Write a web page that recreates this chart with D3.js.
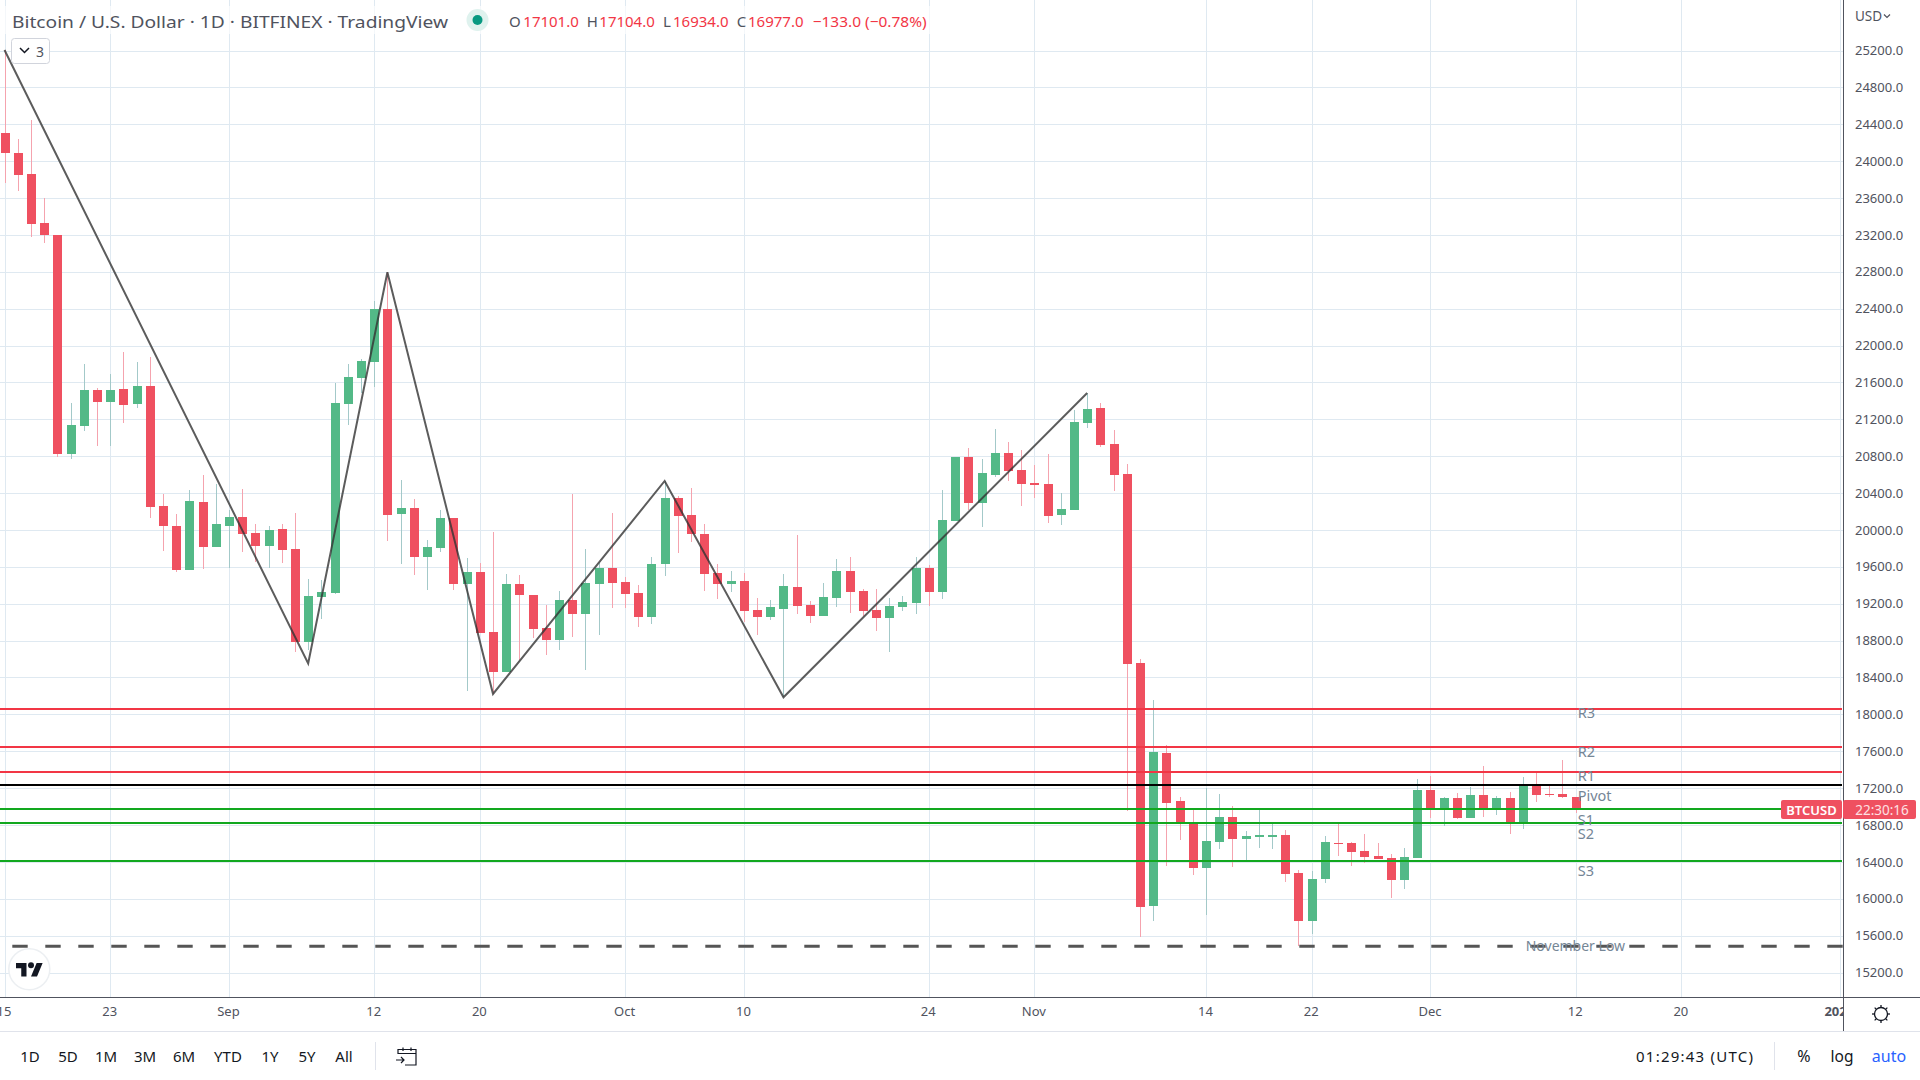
<!DOCTYPE html>
<html><head><meta charset="utf-8">
<script src="https://cdn.jsdelivr.net/npm/d3@7"></script>
<style>
html,body{margin:0;padding:0;background:#fff;overflow:hidden}
svg{display:block}
text{font-family:"Noto Sans",Roboto,sans-serif}
</style></head><body>
<script>
const opens=[24306,24089,23861,23330,23200,20824,21127,21518,21388,21529,21366,21561,20260,20043,19566,20303,19815,20043,20140,19967,19826,20010,19793,18785,19273,19316,21366,21648,21821,22397,20173,20238,19707,19804,20130,19414,19544,18893,18459,19414,19295,18937,18806,19240,19088,19414,19587,19436,19316,19056,19631,20346,20162,19956,19533,19414,19446,19132,19056,19143,19381,19186,19067,19262,19555,19338,19132,19045,19164,19208,19587,19327,20097,20791,20292,20596,20834,20650,20509,20498,20162,20216,21160,21322,20932,20607,18557,15921,17580,17060,16818,16333,16615,16886,16648,16669,16669,16691,16279,15758,16214,16601,16604,16518,16463,16441,16203,16441,17179,16984,17092,16875,17125,16984,17092,16832,17222,17135,17135,17101];
const highs=[25206,24240,24447,23601,23200,21377,21800,21539,21691,21930,21821,21876,20390,20173,20433,20596,20498,20216,20444,20065,20043,20065,20184,19468,19457,21594,21800,21850,22484,22795,20542,20336,19891,20216,20130,19696,19638,19978,19522,19511,19295,19186,19338,20390,19793,19638,20184,19490,19403,19706,20530,20368,20455,20064,19630,19555,19533,19262,19240,19522,19945,19229,19424,19685,19706,19359,19359,19262,19283,19706,19620,20433,20791,20889,20769,21095,20954,20867,20704,20823,20400,21301,21485,21377,21084,20715,18600,18155,17663,17103,16962,17201,17136,17005,16734,16962,16810,16745,16311,16300,16680,16810,16615,16702,16604,16485,16550,17298,17331,17103,17147,17212,17439,17114,17157,17320,17363,17222,17504,17104];
const lows=[23767,23677,23178,23113,20795,20769,21073,20910,20910,21160,21323,20130,19772,19544,19566,19577,19815,19587,19761,19652,19587,19642,18676,18700,19034,19305,21138,21480,21554,19880,19631,19511,19349,19761,19349,18253,18882,18221,18459,18590,18828,18644,18698,18839,18481,18861,19154,19154,18948,18980,19500,19750,19869,19338,19251,19327,19002,18860,19023,18185,19088,18991,19067,19164,19099,19067,18904,18676,19121,19088,19175,19251,20097,20216,20032,20574,20531,20260,20346,20075,20053,20216,21105,20899,20422,16955,15588,15758,16355,16637,16257,15823,16539,16344,16420,16550,16539,16181,15487,15617,16170,16463,16355,16387,16431,16008,16105,16441,16875,16788,16864,16875,16886,16908,16702,16756,17049,17103,17092,16934];
const closes=[24089,23850,23319,23200,20824,21138,21518,21388,21518,21355,21561,20249,20043,19566,20314,19815,20065,20140,19956,19826,20000,19783,18785,19284,19327,21377,21659,21832,22397,20162,20238,19707,19815,20130,19414,19544,18882,18459,19414,19295,18926,18806,19240,19088,19425,19587,19425,19305,19056,19631,20346,20151,19956,19522,19414,19446,19121,19056,19164,19392,19175,19067,19273,19555,19327,19121,19045,19175,19218,19587,19327,20108,20791,20292,20617,20834,20639,20498,20487,20151,20227,21170,21311,20921,20596,18546,15910,17591,17038,16832,16333,16626,16886,16648,16680,16691,16691,16268,15758,16214,16615,16593,16507,16452,16431,16203,16452,17179,16984,17092,16875,17125,16984,17092,16832,17222,17125,17125,17103,16977];
const priceTicks=[25200,24800,24400,24000,23600,23200,22800,22400,22000,21600,21200,20800,20400,20000,19600,19200,18800,18400,18000,17600,17200,16800,16400,16000,15600,15200];
const timeTickDay=[0,8,17,28,36,47,56,70,78,91,99,108,119,127,139];
const timeTickLabels=["15","23","Sep","12","20","Oct","10","24","Nov","14","22","Dec","12","20","2023"];
const levelNames=["R3","R2","R1","Pivot","S1","S2","S3"];
const levelPrices=[18058,17645,17374,17233,16973,16821,16409];
const levelColors=["#f23645","#f23645","#f23645","#000000","#12a81f","#12a81f","#12a81f"];
const levelLabelPrices=[18025,17600,17340,17125,16860,16715,16315];
const novemberLow=15484;
const zigzagDay=[0,23,29,37,50,59,82];
const zigzagPrice=[25206,18553,22795,18221,20531,18185,21485];
const rangeButtons=["1D","5D","1M","3M","6M","YTD","1Y","5Y","All"];
const rangeButtonX=[30,68,106,145,184,228,270,307,344];

const W=1920,H=1080,paneR=1843,paneB=997;
const svg=d3.select("body").append("svg").attr("width",W).attr("height",H);
const x=d3.scaleLinear().domain([0,119]).range([4.5,1575.7]);
const y=d3.scaleLinear().domain([15200,25200]).range([972.5,50.5]);
const sx=v=>Math.round(x(v));
const sy=v=>Math.round(y(v));
const gridC="#dfe9f1",up="#53b987",dn="#ef5060",upW="#a3c9c9",dnW="#f5a3ae",txt="#50535e",lab="#758696";

// grid
const grid=svg.append("g").attr("shape-rendering","crispEdges");
grid.selectAll(".gy").data(priceTicks).join("line").attr("x1",0).attr("x2",paneR)
  .attr("y1",d=>sy(d)+.5).attr("y2",d=>sy(d)+.5).attr("stroke",gridC);
grid.selectAll(".gx").data(timeTickDay).join("line").attr("y1",0).attr("y2",paneB)
  .attr("x1",d=>sx(d)+.5).attr("x2",d=>sx(d)+.5).attr("stroke",gridC);
svg.append("rect").attr("x",0).attr("y",6).attr("width",935).attr("height",28).attr("fill","#fff").attr("opacity",.65);

// candles
const cand=svg.append("g").attr("shape-rendering","crispEdges");
const days=d3.range(opens.length);
cand.selectAll(".w").data(days).join("rect").attr("x",d=>sx(d)).attr("width",1)
  .attr("y",d=>sy(highs[d])).attr("height",d=>Math.max(1,sy(lows[d])-sy(highs[d])))
  .attr("fill",d=>closes[d]>=opens[d]?upW:dnW);
cand.selectAll(".b").data(days).join("rect").attr("x",d=>sx(d)-4).attr("width",9)
  .attr("y",d=>Math.min(sy(opens[d]),sy(closes[d])))
  .attr("height",d=>Math.max(1,Math.abs(sy(opens[d])-sy(closes[d]))))
  .attr("fill",d=>closes[d]>=opens[d]?up:dn);

// levels
svg.append("g").selectAll("line").data(levelPrices).join("line")
  .attr("x1",0).attr("x2",paneR-1).attr("y1",d=>y(d)).attr("y2",d=>y(d))
  .attr("stroke",(d,i)=>levelColors[i]).attr("stroke-width",2);
svg.append("line").attr("x1",0).attr("x2",paneR).attr("y1",y(novemberLow)).attr("y2",y(novemberLow))
  .attr("stroke","#555").attr("stroke-width",3).attr("stroke-dasharray","15.4 17.6").attr("stroke-dashoffset",20.7);
// zigzag
svg.append("path").attr("fill","none").attr("stroke","#333").attr("stroke-opacity",.8).attr("stroke-width",2)
  .attr("stroke-linejoin","miter")
  .attr("d",d3.line().x(d=>x(d)).y((d,i)=>y(zigzagPrice[i]))(zigzagDay));

// level labels
const lbl=svg.append("g").attr("font-size",14.5).attr("fill",lab).attr("dominant-baseline","central");
lbl.selectAll("text").data(levelNames).join("text").attr("x",x(119)+2).attr("y",(d,i)=>y(levelLabelPrices[i]))
  .attr("dominant-baseline","central").text(d=>d);
svg.append("text").attr("x",x(119)-50).attr("y",y(novemberLow)-1).attr("font-size",14).attr("fill",lab)
  .attr("dominant-baseline","central").attr("text-anchor","start").text("November Low");

// axes chrome
svg.append("rect").attr("x",paneR).attr("y",0).attr("width",W-paneR).attr("height",1031).attr("fill","#fff");
svg.append("rect").attr("x",0).attr("y",paneB).attr("width",paneR).attr("height",34).attr("fill","#fff");
const yAxis=d3.axisRight(y).tickValues(priceTicks).tickFormat(d=>d.toFixed(1)).tickSize(0).tickPadding(12);
const yg=svg.append("g").attr("transform",`translate(${paneR},0)`).call(yAxis);
yg.select(".domain").remove();
yg.selectAll("text").attr("font-size",13).attr("fill",txt).attr("font-family",'"Noto Sans"');
const xAxis=d3.axisBottom(x).tickValues(timeTickDay).tickFormat((d,i)=>timeTickLabels[i]).tickSize(0).tickPadding(10);
const xg=svg.append("g").attr("transform",`translate(-1,${paneB})`).attr("clip-path","url(#tc2)").call(xAxis);
svg.append("clipPath").attr("id","tc2").append("rect").attr("x",0).attr("y",0).attr("width",paneR+1).attr("height",34);
xg.select(".domain").remove();
xg.selectAll("text").attr("font-size",13).attr("fill",txt).attr("font-family",'"Noto Sans"').attr("font-weight",(d,i)=>timeTickLabels[i]==="2023"?700:400);

svg.append("rect").attr("x",0).attr("y",paneB).attr("width",W).attr("height",1).attr("fill","#50535e").attr("shape-rendering","crispEdges");
svg.append("rect").attr("x",paneR).attr("y",0).attr("width",1).attr("height",1031).attr("fill","#50535e").attr("shape-rendering","crispEdges");
svg.append("rect").attr("x",0).attr("y",1031).attr("width",W).attr("height",1).attr("fill","#e0e3eb").attr("shape-rendering","crispEdges");

// header
svg.append("text").attr("x",12).attr("y",21).attr("font-size",17).attr("fill","#50535e").attr("dominant-baseline","central")
  .attr("textLength",436).attr("lengthAdjust","spacingAndGlyphs").text("Bitcoin / U.S. Dollar · 1D · BITFINEX · TradingView");
svg.append("circle").attr("cx",477.5).attr("cy",20).attr("r",11).attr("fill","#dff2ee");
svg.append("circle").attr("cx",477.5).attr("cy",20).attr("r",5).attr("fill","#089981");
const ohlcLabels=[["O","17101.0",509,523.3],["H","17104.0",586.7,599.3],["L","16934.0",663,673],["C","16977.0",736.7,748]];
ohlcLabels.forEach(([a,b,px,vx])=>{
  svg.append("text").attr("x",px).attr("y",21).attr("font-size",15).attr("fill","#50535e").attr("dominant-baseline","central").text(a);
  svg.append("text").attr("x",vx).attr("y",21).attr("font-size",15).attr("fill","#f23645").attr("dominant-baseline","central").text(b);
});
svg.append("text").attr("x",812.7).attr("y",21).attr("font-size",15).attr("fill","#f23645").attr("dominant-baseline","central")
  .attr("textLength",114).attr("lengthAdjust","spacingAndGlyphs").text("−133.0 (−0.78%)");

// collapse button
svg.append("rect").attr("x",11.5).attr("y",38.5).attr("width",38).attr("height",25).attr("rx",3).attr("fill","#fff").attr("stroke","#d1d4dc");
svg.append("path").attr("d","M20 48l4.5 4.5l4.5-4.5").attr("fill","none").attr("stroke","#131722").attr("stroke-width",1.5);
svg.append("text").attr("x",40).attr("y",51).attr("font-size",14).attr("fill","#50535e").attr("text-anchor","middle").attr("dominant-baseline","central").text("3");

// logo
svg.append("circle").attr("cx",29.3).attr("cy",969.3).attr("r",20.5).attr("fill","#fff").attr("stroke","#eceff2").attr("stroke-width",1.5);
svg.append("g").attr("transform","translate(16,960) scale(.75)").append("path").attr("fill","#131722")
 .attr("d","M14 22H7V11H0V4h14v18zM28 22h-8l7.5-18h8L28 22z");
svg.append("circle").attr("cx",31).attr("cy",965.3).attr("r",3).attr("fill","#131722");

// usd
svg.append("text").attr("x",1855).attr("y",16).attr("font-size",13.5).attr("fill","#50535e").attr("dominant-baseline","central").text("USD");
svg.append("path").attr("d","M1884 14.5l3 3l3-3").attr("fill","none").attr("stroke","#50535e").attr("stroke-width",1.2);

// tags
svg.append("rect").attr("x",1781).attr("y",800).attr("width",61).attr("height",19).attr("rx",2).attr("fill",dn);
svg.append("text").attr("x",1811.5).attr("y",810).attr("font-size",13).attr("font-weight",600).attr("fill","#fff").attr("text-anchor","middle").attr("dominant-baseline","central").text("BTCUSD");
svg.append("rect").attr("x",1843).attr("y",800).attr("width",73).attr("height",19).attr("rx",2).attr("fill",dn);
svg.append("text").attr("x",1882).attr("y",810).attr("font-size",13.5).attr("fill","#fde0e2").attr("text-anchor","middle").attr("dominant-baseline","central").text("22:30:16");

// gear / sun
const gear=svg.append("g").attr("transform","translate(1881,1014)").attr("stroke","#131722").attr("fill","none").attr("stroke-width",1.3);
gear.append("circle").attr("r",6.5);
d3.range(8).forEach(i=>{const a=i*Math.PI/4;gear.append("line").attr("x1",6.5*Math.cos(a)).attr("y1",6.5*Math.sin(a)).attr("x2",9*Math.cos(a)).attr("y2",9*Math.sin(a));});

// bottom bar
svg.append("g").selectAll("text").data(rangeButtons).join("text").attr("x",(d,i)=>rangeButtonX[i]).attr("y",1055.5)
  .attr("font-size",15).attr("fill","#131722").attr("text-anchor","middle").attr("dominant-baseline","central").text(d=>d);
[375,1774].forEach(v=>svg.append("rect").attr("x",v).attr("y",1042).attr("width",1).attr("height",28).attr("fill","#e0e3eb"));
const cal=svg.append("g").attr("transform","translate(396,1046)").attr("fill","none").attr("stroke","#131722").attr("stroke-width",1.2);
cal.append("path").attr("d","M2 8V3.5H20V19H9M2 7.5H20M7 1.5V5M15 1.5V5M0 14H8M5 11L8 14L5 17");
svg.append("text").attr("x",1694.5).attr("y",1055.5).attr("font-size",15).attr("fill","#131722").attr("text-anchor","middle").attr("dominant-baseline","central")
  .attr("textLength",117).attr("lengthAdjust","spacing").text("01:29:43 (UTC)");
svg.append("text").attr("x",1804).attr("y",1055.5).attr("font-size",16).attr("fill","#131722").attr("text-anchor","middle").attr("dominant-baseline","central").text("%");
svg.append("text").attr("x",1842).attr("y",1055.5).attr("font-size",15.5).attr("fill","#131722").attr("text-anchor","middle").attr("dominant-baseline","central").text("log");
svg.append("text").attr("x",1889).attr("y",1055.5).attr("font-size",16).attr("fill","#2962ff").attr("text-anchor","middle").attr("dominant-baseline","central").text("auto");
</script></body></html>
